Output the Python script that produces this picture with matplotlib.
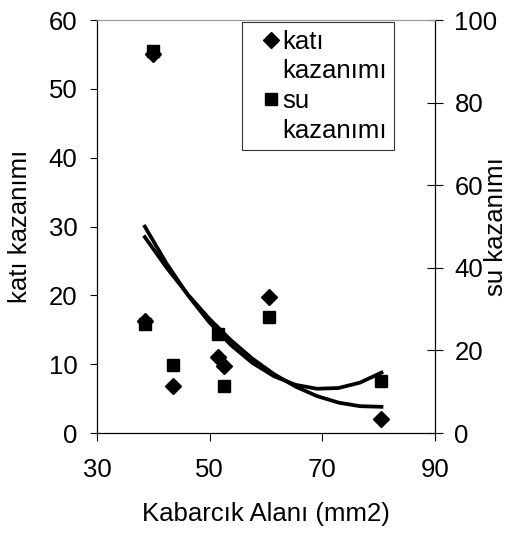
import numpy as np
import matplotlib
matplotlib.use("Agg")
import matplotlib.pyplot as plt
from matplotlib.lines import Line2D

plt.rcParams['font.family'] = ['Liberation Sans', 'DejaVu Sans']

# Kabarcik alani (mm2)
alan = [38.5, 40.0, 43.5, 51.5, 52.5, 60.5, 80.5]
# kati kazanimi (sol eksen)
kati = [16.3, 55.0, 6.8, 11.0, 9.7, 19.8, 2.0]
# su kazanimi (sag eksen)
su = [26.5, 92.5, 16.5, 24.0, 11.5, 28.0, 12.5]

fs = 18.5

fig = plt.figure(figsize=(5.13, 5.34), dpi=100)
ax1 = fig.add_axes([0.189, 0.189, 0.659, 0.7735])
ax2 = ax1.twinx()

# 2. derece polinom egilim cizgileri (Excel gibi)
xs = np.linspace(min(alan), max(alan), 12)
pk = np.polyfit(alan, kati, 2)
ps = np.polyfit(alan, su, 2)
ax1.plot(xs, np.polyval(pk, xs), color='black', lw=2.7, zorder=2)
ax2.plot(xs, np.polyval(ps, xs), color='black', lw=2.7, zorder=2)

h1, = ax1.plot(alan, kati, 'D', color='black', ms=8.5, ls='none', zorder=3)
h2, = ax2.plot(alan, su, 's', color='black', ms=8, ls='none', zorder=3)

ax1.set_xlim(30, 90)
ax1.set_ylim(0, 60)
ax2.set_ylim(0, 100)
ax1.set_xticks([30, 50, 70, 90])
ax1.set_yticks(range(0, 61, 10))
ax2.set_yticks(range(0, 101, 20))

ax1.tick_params(axis='x', direction='out', length=6, labelsize=fs, pad=12)
ax1.tick_params(axis='y', direction='out', length=5, labelsize=fs, pad=9)
ax2.tick_params(axis='y', direction='inout', length=12, labelsize=fs, pad=8)

ax1.spines['top'].set_color('#999999')
ax2.spines['top'].set_color('#999999')

ax1.set_xlabel('Kabarcık Alanı (mm2)', fontsize=fs, labelpad=14)
ax1.set_ylabel('katı kazanımı', fontsize=fs)
ax2.set_ylabel('su kazanımı', fontsize=fs)
ax1.yaxis.set_label_coords(-0.191, 0.5)
ax2.yaxis.set_label_coords(1.145, 0.5)

# legend: label wrapped onto two lines, marker next to the first line
bos = Line2D([], [], ls='none')
leg = ax2.legend([h1, bos, h2, bos], ['katı', 'kazanımı', 'su', 'kazanımı'],
                 loc='upper left', bbox_to_anchor=(0.429, 0.995),
                 fontsize=fs, frameon=True, fancybox=False,
                 edgecolor='black', handlelength=1.62, handletextpad=-0.37,
                 borderpad=0.3, borderaxespad=0, labelspacing=0.22,
                 markerscale=1.0)
leg.get_frame().set_linewidth(0.8)

fig.savefig('out.png', dpi=100)
